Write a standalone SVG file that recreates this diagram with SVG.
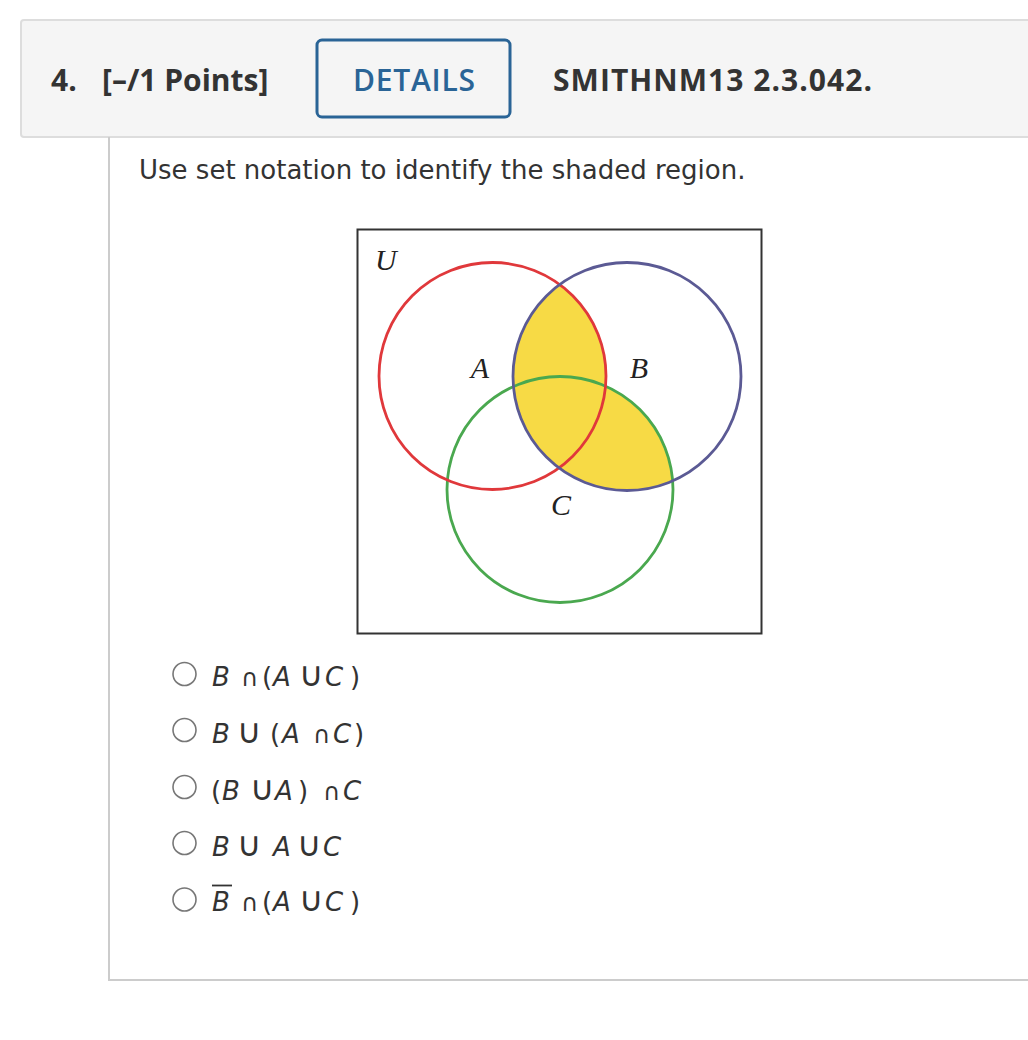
<svg xmlns="http://www.w3.org/2000/svg" width="1028" height="1040" viewBox="0 0 1028 1040">
  <defs>
    <style>
      .hdr { font-family: "Open Sans", "Liberation Sans", sans-serif; font-weight: 700; font-size: 30px; fill: #333; }
      .det { font-family: "Open Sans", "Liberation Sans", sans-serif; font-weight: 600; font-size: 30px; fill: #2a6496; }
      .body { font-family: "DejaVu Sans", Verdana, sans-serif; font-size: 26px; fill: #333; }
      .opt { font-family: "DejaVu Sans", Verdana, sans-serif; font-size: 26px; fill: #333; }
      .var { font-style: italic; }
      .cap { font-size: 24px; letter-spacing: -4px; }
      .cup { font-size: 34px; letter-spacing: -10px; }
      .radio { fill: #fff; stroke: #777; stroke-width: 1.6; }
      .vlabel { font-family: "Liberation Serif", "Times New Roman", serif; font-style: italic; font-size: 30px; fill: #222; }
      .ring { fill: none; stroke-width: 2.8; }
    </style>
    <clipPath id="clipB">
      <circle cx="627" cy="376.5" r="114"/>
    </clipPath>
  </defs>

  <rect width="1028" height="1040" fill="#fff"/>

  <!-- header -->
  <g id="header">
    <rect x="21" y="20" width="1030" height="117" rx="3" fill="#f5f5f5" stroke="#dddddd" stroke-width="2"/>
    <text class="hdr" x="51" y="91">4.</text>
    <text class="hdr" x="102" y="91">[–/1 Points]</text>
    <rect x="317" y="40" width="193" height="77" rx="5" fill="#f5f5f5" stroke="#2a6496" stroke-width="3"/>
    <text class="det" x="414" y="91" text-anchor="middle" textLength="122">DETAILS</text>
    <text class="hdr" x="553" y="91" textLength="319">SMITHNM13 2.3.042.</text>
  </g>

  <!-- content panel -->
  <g id="panel">
    <path d="M109,137 V980 H1030" fill="none" stroke="#cccccc" stroke-width="2"/>
    <text class="body" x="139" y="179">Use set notation to identify the shaded region.</text>
  </g>

  <!-- Venn diagram -->
  <g id="venn">
    <rect x="357.5" y="229.5" width="404" height="404" fill="#fff" stroke="#333" stroke-width="2"/>
    <g clip-path="url(#clipB)" fill="#f7da45">
      <circle cx="492.5" cy="376" r="113.5"/>
      <circle cx="560" cy="489.5" r="113"/>
    </g>
    <circle id="circleC" class="ring" cx="560" cy="489.5" r="113" stroke="#4aa84f"/>
    <circle id="circleA" class="ring" cx="492.5" cy="376" r="113.5" stroke="#e0383b"/>
    <circle id="circleB" class="ring" cx="627" cy="376.5" r="114" stroke="#5b5a94"/>
    <text class="vlabel" x="375" y="270">U</text>
    <text class="vlabel" x="480" y="378" text-anchor="middle">A</text>
    <text class="vlabel" x="639" y="378" text-anchor="middle">B</text>
    <text class="vlabel" x="561" y="515" text-anchor="middle">C</text>
  </g>

  <!-- options -->
  <g id="option1">
    <circle class="radio" cx="184.5" cy="674" r="11.5"/>
    <text class="opt" y="686"><tspan class="var" x="212">B</tspan><tspan class="cap" x="241">∩</tspan><tspan x="262">(</tspan><tspan class="var" x="273">A</tspan><tspan class="cup" x="299">∪</tspan><tspan class="var" x="325">C</tspan><tspan x="350">)</tspan></text>
  </g>
  <g id="option2">
    <circle class="radio" cx="184.5" cy="730" r="11.5"/>
    <text class="opt" y="743"><tspan class="var" x="212">B</tspan><tspan class="cup" x="237">∪</tspan><tspan x="270">(</tspan><tspan class="var" x="282">A</tspan><tspan class="cap" x="313">∩</tspan><tspan class="var" x="333">C</tspan><tspan x="354">)</tspan></text>
  </g>
  <g id="option3">
    <circle class="radio" cx="184.5" cy="787" r="11.5"/>
    <text class="opt" y="800"><tspan x="211">(</tspan><tspan class="var" x="222">B</tspan><tspan class="cup" x="250">∪</tspan><tspan class="var" x="275">A</tspan><tspan x="298">)</tspan><tspan class="cap" x="323">∩</tspan><tspan class="var" x="343">C</tspan></text>
  </g>
  <g id="option4">
    <circle class="radio" cx="184.5" cy="843" r="11.5"/>
    <text class="opt" y="856"><tspan class="var" x="212">B</tspan><tspan class="cup" x="237">∪</tspan><tspan class="var" x="273">A</tspan><tspan class="cup" x="297">∪</tspan><tspan class="var" x="323">C</tspan></text>
  </g>
  <g id="option5">
    <circle class="radio" cx="184.5" cy="899.5" r="11.5"/>
    <line x1="212" y1="885.5" x2="232" y2="885.5" stroke="#333" stroke-width="1.8"/>
    <text class="opt" y="911"><tspan class="var" x="212">B</tspan><tspan class="cap" x="241">∩</tspan><tspan x="262">(</tspan><tspan class="var" x="273">A</tspan><tspan class="cup" x="299">∪</tspan><tspan class="var" x="325">C</tspan><tspan x="350">)</tspan></text>
  </g>
</svg>
